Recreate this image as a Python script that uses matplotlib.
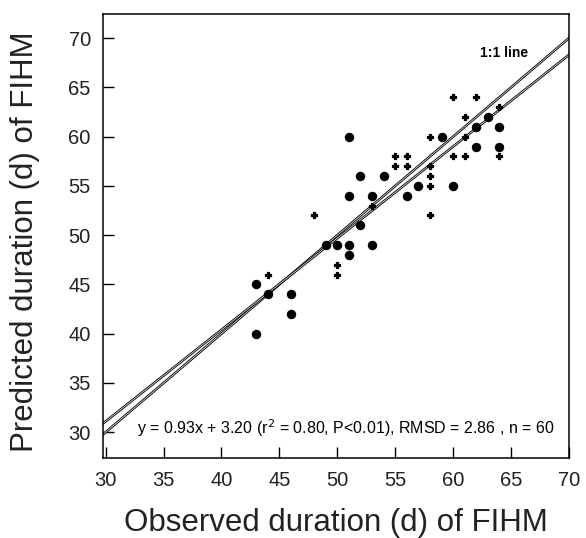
import numpy as np
import matplotlib
matplotlib.use("Agg")
import matplotlib.pyplot as plt
import matplotlib.patheffects as pe

# large filled dots
big_obs = [43, 43, 44, 46, 46, 49, 50, 51, 51, 53, 52, 51, 53, 52, 54,
           51, 56, 57, 60, 59, 62, 64, 62, 64, 63]
big_pred = [45, 40, 44, 44, 42, 49, 49, 49, 48, 49, 51, 54, 54, 56, 56,
            60, 54, 55, 55, 60, 61, 61, 59, 59, 62]

# small plus markers
small_obs = [44, 48, 50, 50, 53, 55, 56, 55, 56, 58, 58, 58, 58, 58,
             60, 61, 64, 61, 60, 62, 61, 64]
small_pred = [46, 52, 47, 46, 53, 58, 58, 57, 57, 60, 57, 56, 55, 52,
              58, 58, 58, 60, 64, 64, 62, 63]

slope = 0.93
intercept = 3.20
x_ticks = [30, 35, 40, 45, 50, 55, 60, 65, 70]
y_ticks = [30, 35, 40, 45, 50, 55, 60, 65, 70]
xlim = (29.8, 70.0)
ylim = (27.35, 72.45)

fig = plt.figure(figsize=(5.86, 5.38), dpi=100)
ax = fig.add_axes([0.1763, 0.148, 0.7947, 0.826])

xl = np.array(xlim)
hollow = [pe.Stroke(linewidth=1.8, foreground="black"), pe.Normal()]
ax.plot(xl, xl, color="white", lw=0.5, path_effects=hollow, zorder=2)
ax.plot(xl, slope * xl + intercept, color="white", lw=0.5,
        path_effects=hollow, zorder=2)

ax.scatter(big_obs, big_pred, s=6.8**2, marker="o", color="black",
           linewidths=0, zorder=3)
ax.scatter(small_obs, small_pred, s=4.6**2, marker="P", color="black",
           edgecolors="black", linewidths=0.9, zorder=3)

ax.set_xlim(*xlim)
ax.set_ylim(*ylim)
ax.set_xticks(x_ticks)
ax.set_yticks(y_ticks)
ax.tick_params(direction="in", length=8, width=1.0, labelsize=14.5,
               labelcolor="#222222", pad=9)
for s in ax.spines.values():
    s.set_linewidth(1.1)

narrow = ["Liberation Sans Narrow", "Liberation Sans"]
ax.text(64.4, 68.5, "1:1 line", fontsize=10, fontweight="bold",
        ha="center", va="center", family=narrow)
ax.text(50.7, 30.4,
        "y = 0.93x + 3.20 (r$^2$ = 0.80, P<0.01), RMSD = 2.86 , n = 60",
        fontsize=11.5, ha="center", va="center", family=narrow)

for lab in ax.get_xticklabels() + ax.get_yticklabels():
    lab.set_family("Liberation Sans")

ax.set_xlabel("Observed duration (d) of FIHM", fontsize=22.5,
              family="Liberation Sans", color="#222222", va="center")
ax.set_ylabel("Predicted duration (d) of FIHM", fontsize=22.5,
              family="Liberation Sans", color="#222222", va="center")
ax.xaxis.set_label_coords(0.5, -0.1456)
ax.yaxis.set_label_coords(-0.168, 0.487)

fig.savefig("out.png", dpi=100)
